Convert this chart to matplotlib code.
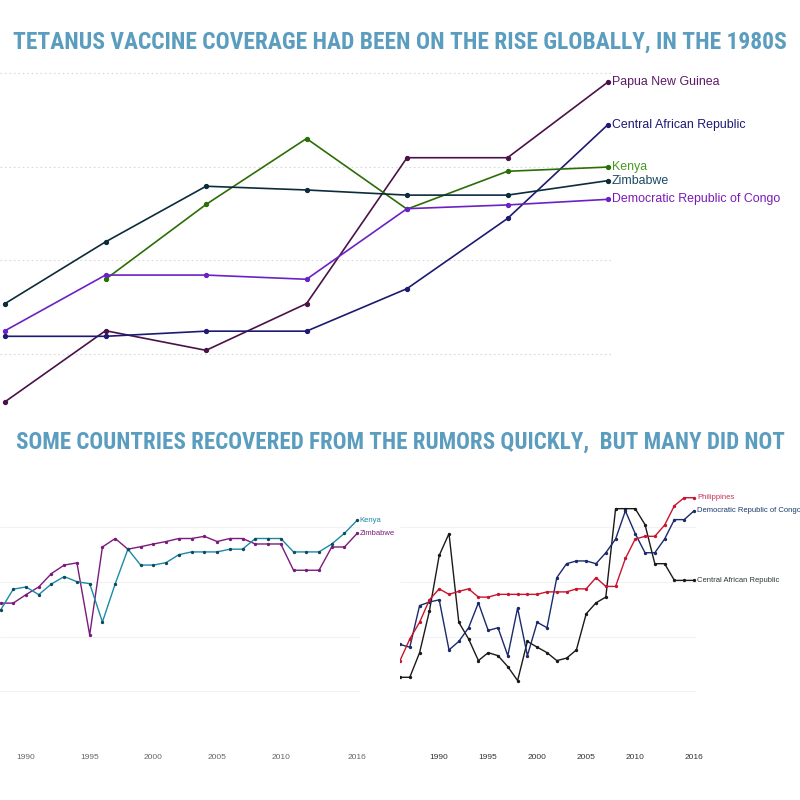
import matplotlib
matplotlib.use('Agg')
import matplotlib.pyplot as plt
from matplotlib import font_manager

# --- top chart: 1980s, seven survey points ---
top_idx = [0, 1, 2, 3, 4, 5, 6]
png_top = [9.7, 24.9, 20.7, 30.7, 61.9, 61.9, 78.1]
car_top = [23.7, 23.7, 24.8, 24.8, 33.9, 48.9, 69.0]
kenya_top = [None, 35.9, 51.9, 66.0, 50.9, 59.0, 59.9]
zim_top = [30.7, 43.9, 55.8, 55.0, 53.9, 53.9, 57.0]
drc_top = [24.9, 36.8, 36.8, 35.9, 51.0, 51.8, 53.0]

# --- bottom left: Kenya / Zimbabwe 1988-2016 ---
years_left = list(range(1988, 2017))
kenya = [49.6, 57.3, 58.1, 55.3, 59.2, 61.9, 60.0, 59.3, 45.3, 59.2,
         71.9, 66.1, 66.1, 67.0, 69.9, 70.9, 70.9, 70.9, 71.9, 71.9,
         75.8, 75.8, 75.8, 70.9, 70.9, 70.9, 73.8, 77.7, 82.5]
zimbabwe = [52.2, 52.2, 55.3, 58.1, 63.0, 66.1, 66.9, 40.6, 72.7, 75.8,
            71.9, 72.8, 73.8, 74.7, 75.8, 75.8, 76.6, 74.7, 75.8, 75.8,
            73.8, 73.8, 73.8, 64.2, 64.2, 64.2, 72.7, 72.7, 77.7]

# --- bottom right: Philippines / DRC / CAR 1986-2016 ---
years_right = list(range(1986, 2017))
philippines = [31.2, 39.1, 45.2, 53.4, 57.4, 55.4, 56.5, 57.4, 54.4, 54.4,
               55.4, 55.4, 55.4, 55.4, 55.4, 56.3, 56.3, 56.3, 57.4, 57.4,
               61.5, 58.3, 58.3, 68.5, 75.6, 76.6, 76.6, 80.7, 87.8, 90.7, 90.7]
drc = [37.1, 36.1, 51.3, 52.6, 53.4, 35.1, 38.2, 43.2, 52.3, 42.2,
       43.2, 33.0, 50.4, 33.0, 45.2, 43.2, 61.5, 66.6, 67.6, 67.6,
       66.6, 70.6, 75.6, 85.9, 77.6, 70.6, 70.6, 75.6, 82.7, 82.7, 85.9]
car = [25.1, 25.1, 34.1, 49.3, 69.6, 77.6, 45.2, 39.1, 31.2, 34.1,
       33.0, 29.0, 23.9, 38.2, 36.1, 34.1, 31.2, 32.1, 35.1, 48.3,
       52.3, 54.4, 86.7, 86.7, 86.7, 80.9, 66.6, 66.6, 60.5, 60.5, 60.5]

year_ticks = [1990, 1995, 2000, 2005, 2010, 2016]
title_top = 'TETANUS VACCINE COVERAGE HAD BEEN ON THE RISE GLOBALLY, IN THE 1980S'
title_bottom = 'SOME COUNTRIES RECOVERED FROM THE RUMORS QUICKLY,  BUT MANY DID NOT'


def pick_font(names):
    have = {f.name for f in font_manager.fontManager.ttflist}
    for n in names:
        if n in have:
            return n
    return 'DejaVu Sans'


title_font = pick_font(['Roboto Condensed', 'Liberation Sans Narrow', 'DejaVu Sans'])
label_font = pick_font(['Liberation Sans', 'Arial', 'DejaVu Sans'])
TITLE_COLOR = '#5b9dbf'

fig = plt.figure(figsize=(8, 8), dpi=100)
W, H = 800.0, 800.0


def px_axes(left, top, right, bottom):
    return fig.add_axes([left / W, 1 - bottom / H, (right - left) / W, (bottom - top) / H])


def clean(ax):
    for s in ax.spines.values():
        s.set_visible(False)
    ax.set_yticks([])
    ax.tick_params(length=0)


fig.text(0.5, 1 - 42 / H, title_top, ha='center', va='center', fontsize=16.9,
         fontweight='bold', color=TITLE_COLOR, family=title_font)
fig.text(0.5, 1 - 442 / H, title_bottom, ha='center', va='center', fontsize=16.6,
         fontweight='bold', color=TITLE_COLOR, family=title_font)

# ---------------- top chart ----------------
ax = px_axes(0, 60, 800, 420)
clean(ax)
ax.set_xticks([])
ax.set_xlim(-0.05, -0.05 + 800 / 100.5)
ax.set_ylim(5.8, 82.8)
ax.hlines([20, 40, 60, 80], -0.05, 6.05, colors='#d9d9d9', linestyles=(0, (1.5, 2.5)), lw=0.8)

top_series = [
    ('Papua New Guinea', png_top, '#4a1248', '#5c1a66'),
    ('Central African Republic', car_top, '#1c1a72', '#1c1a72'),
    ('Kenya', kenya_top, '#2c6e06', '#4a9a20'),
    ('Zimbabwe', zim_top, '#0c2c3c', '#1a4a62'),
    ('Democratic Republic of Congo', drc_top, '#6a22c4', '#7a1ab6'),
]
for name, vals, lc, tc in top_series:
    xs = [i for i, v in zip(top_idx, vals) if v is not None]
    ys = [v for v in vals if v is not None]
    ax.plot(xs, ys, color=lc, lw=1.2, marker='o', ms=2.8)
    ax.text(xs[-1] + 0.04, ys[-1], name, color=tc, fontsize=8.9, va='center',
            ha='left', family=label_font)

# ---------------- bottom left ----------------
axl = px_axes(0, 475, 400, 746)
clean(axl)
axl.set_xlim(1987.96, 1987.96 + 400 / 12.74)
axl.set_ylim(0, 99)
axl.hlines([0, 20, 40, 60, 80], 1987.96, 2016.2, colors='#f2f2f2', lw=0.8)
axl.plot(years_left, zimbabwe, color='#7a1a7c', lw=1.0, marker='o', ms=1.4)
axl.plot(years_left, kenya, color='#1a8aa6', lw=1.0, marker='o', ms=1.4, mfc='#0c4a5c', mec='#0c4a5c')
axl.text(2016.2, kenya[-1], 'Kenya', color='#1a8aa6', fontsize=5.5, va='center', family=label_font)
axl.text(2016.2, zimbabwe[-1], 'Zimbabwe', color='#7a1a7c', fontsize=5.5, va='center', family=label_font)
axl.set_xticks(year_ticks)
axl.set_xticklabels([str(y) for y in year_ticks], fontsize=6, color='#666666', family=label_font)
axl.tick_params(axis='x', pad=6)

# ---------------- bottom right ----------------
axr = px_axes(400, 475, 800, 746)
clean(axr)
axr.set_xlim(1986, 1986 + 400 / 9.8)
axr.set_ylim(0, 99)
axr.hlines([0, 20, 40, 60, 80], 1986, 2016.2, colors='#f2f2f2', lw=0.8)
axr.plot(years_right, car, color='#1a1a1a', lw=1.0, marker='o', ms=1.4)
axr.plot(years_right, drc, color='#1a2a6c', lw=1.0, marker='o', ms=1.4)
axr.plot(years_right, philippines, color='#c8142e', lw=1.0, marker='o', ms=1.4)
axr.text(2016.3, philippines[-1], 'Philippines', color='#c8305a', fontsize=5.5, va='center', family=label_font)
axr.text(2016.3, drc[-1], 'Democratic Republic of Congo', color='#1a3a6a', fontsize=5.5, va='center', family=label_font)
axr.text(2016.3, car[-1], 'Central African Republic', color='#2a3a3a', fontsize=5.5, va='center', family=label_font)
axr.set_xticks(year_ticks)
axr.set_xticklabels([str(y) for y in year_ticks], fontsize=6, color='#333333', family=label_font)
axr.tick_params(axis='x', pad=6)

fig.savefig('out.png', dpi=100, facecolor='white')
